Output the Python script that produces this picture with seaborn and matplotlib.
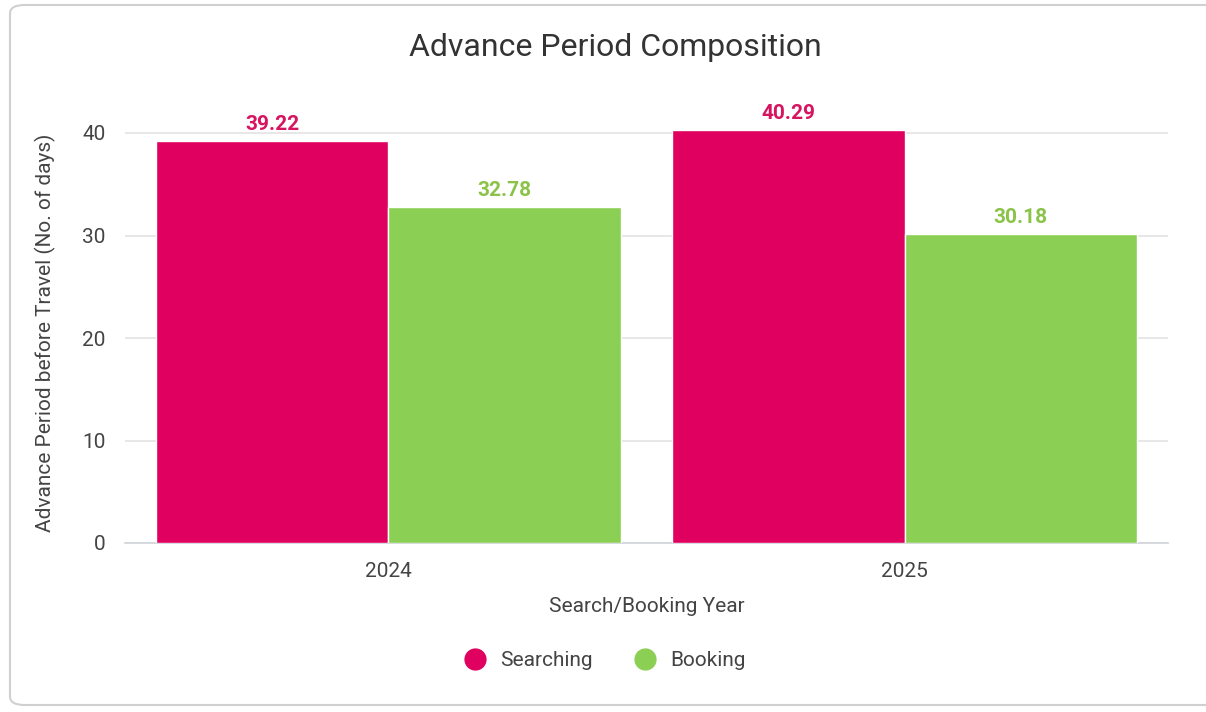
import matplotlib
matplotlib.use("Agg")
import matplotlib.pyplot as plt
from matplotlib.patches import FancyBboxPatch
from matplotlib.lines import Line2D
import seaborn as sns
import pandas as pd

years = ["2024", "2025"]
series = ["Searching", "Booking"]
searching = [39.22, 40.29]
booking = [32.78, 30.18]
yticks = [0, 10, 20, 30, 40]

colors = {"Searching": "#E0005F", "Booking": "#8CCF55"}
label_colors = {"Searching": "#D6145F", "Booking": "#8BC34A"}

df = pd.DataFrame({
    "Year": years * 2,
    "Series": ["Searching"] * len(years) + ["Booking"] * len(years),
    "Value": searching + booking,
})

sns.set_theme(style="white")
plt.rcParams["font.family"] = ["Roboto", "DejaVu Sans"]

fig = plt.figure(figsize=(12.06, 7.12), dpi=100)
card = FancyBboxPatch((10 / 1206, 7 / 712), 1.2, 700 / 712,
                      boxstyle="round,pad=0,rounding_size=0.012",
                      transform=fig.transFigure, facecolor="white",
                      edgecolor="#d0d0d0", linewidth=1.5, zorder=-10)
fig.patches.append(card)

ax = fig.add_axes([125 / 1206, 1 - 543 / 712, (1168 - 125) / 1206, 41 * 10.25 / 712])
ax.set_facecolor("none")

sns.barplot(data=df, x="Year", y="Value", hue="Series", order=years,
            hue_order=series, palette=colors, width=0.9, saturation=1,
            ax=ax, legend=False, zorder=3)

for cont, s in zip(ax.containers, series):
    ax.bar_label(cont, labels=[f"{v:.2f}" for v in cont.datavalues],
                 padding=5, color=label_colors[s], fontsize=15, fontweight="bold")

ax.set_ylim(0, 41)
ax.set_xlim(-0.51, 1.51)
ax.set_yticks(yticks)
ax.yaxis.grid(True, color="#e3e3e3", linewidth=1.2, zorder=0)
ax.set_axisbelow(True)
for sp in ["top", "right", "left"]:
    ax.spines[sp].set_visible(False)
ax.spines["bottom"].set_color("#cfd3d8")
ax.spines["bottom"].set_linewidth(1.2)
ax.tick_params(axis="both", length=0, labelsize=15, colors="#444444")
ax.tick_params(axis="y", pad=14)
ax.tick_params(axis="x", pad=14)
ax.set_xlabel("Search/Booking Year", fontsize=15, color="#444444", labelpad=11)
ax.set_ylabel("Advance Period before Travel (No. of days)", fontsize=15,
              color="#444444", labelpad=19)

fig.text(615 / 1206, 1 - 48 / 712, "Advance Period Composition", ha="center",
         va="center", fontsize=23, color="#333333")

handles = [Line2D([], [], marker="o", linestyle="", markersize=15,
                  markerfacecolor=colors[s], markeredgecolor=colors[s]) for s in series]
fig.legend(handles, series, loc="center", bbox_to_anchor=(600 / 1206, 1 - 661 / 712),
           ncol=2, frameon=False, fontsize=15, handletextpad=0.2,
           columnspacing=1.5, labelcolor="#444444")

fig.savefig("out.png", dpi=100)
